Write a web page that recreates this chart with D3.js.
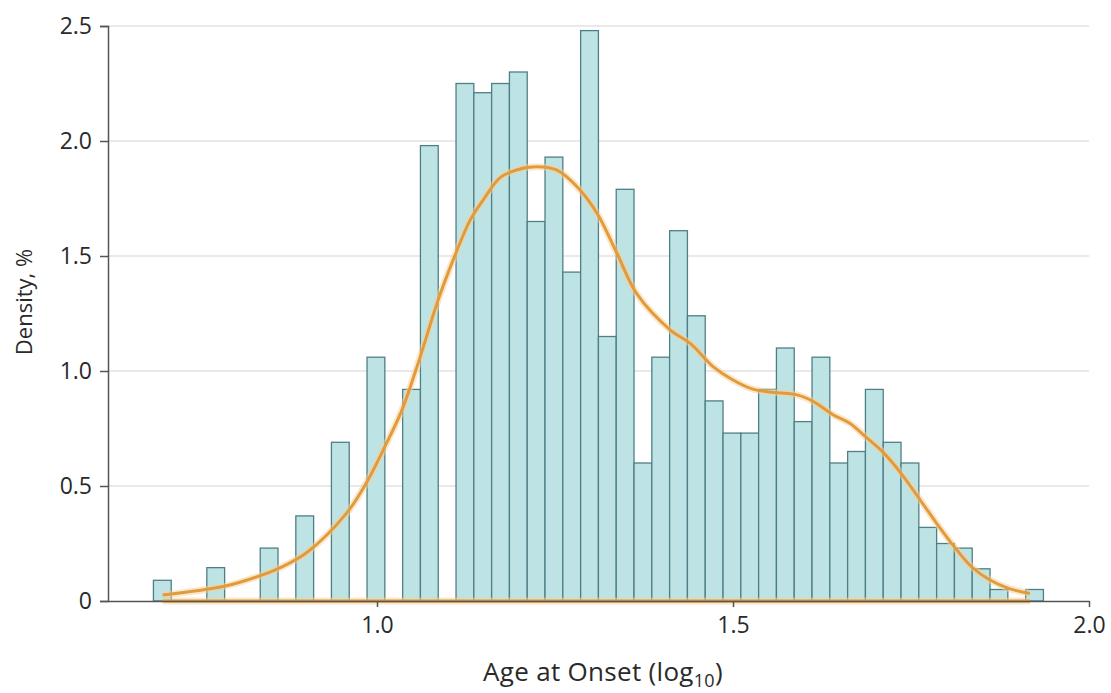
<!DOCTYPE html>
<html lang="en">
<head>
  <meta charset="utf-8" />
  <title>Age at Onset histogram</title>
  <script src="https://d3js.org/d3.v7.min.js"></script>
  <style>
    body { margin: 0; background: #fff; }
    text { font-family: "Open Sans", "DejaVu Sans", sans-serif; fill: #2a2a2a; }
  </style>
</head>
<body>
  <script>
    // histogram bins (log10 age), equal width
    var binStart = 0.686;
    var binWidth = 0.025;
    var density = [
      0.09, 0, 0, 0.145, 0, 0, 0.23, 0, 0.37, 0,
      0.69, 0, 1.06, 0, 0.92, 1.98, 0, 2.25, 2.21, 2.25,
      2.30, 1.65, 1.93, 1.43, 2.48, 1.15, 1.79, 0.60, 1.06, 1.61,
      1.24, 0.87, 0.73, 0.73, 0.92, 1.10, 0.78, 1.06, 0.60, 0.65,
      0.92, 0.69, 0.60, 0.32, 0.25, 0.23, 0.14, 0.05, 0, 0.05
    ];

    // kernel density curve
    var kdeX = [0.699, 0.787, 0.836, 0.864, 0.901, 0.957, 0.986, 1.011, 1.035, 1.060,
      1.085, 1.107, 1.131, 1.149, 1.173, 1.196, 1.224, 1.252, 1.281, 1.309,
      1.337, 1.365, 1.412, 1.440, 1.472, 1.500, 1.529, 1.561, 1.590,
      1.613, 1.641, 1.664, 1.688, 1.711, 1.736, 1.763, 1.786, 1.809, 1.835,
      1.861, 1.887, 1.917];
    var kdeY = [0.026, 0.065, 0.110, 0.145, 0.210, 0.381, 0.519, 0.671, 0.830, 1.055,
      1.301, 1.483, 1.657, 1.743, 1.841, 1.874, 1.888, 1.874, 1.801, 1.686,
      1.512, 1.335, 1.178, 1.120, 1.019, 0.961, 0.920, 0.906, 0.896,
      0.867, 0.809, 0.773, 0.709, 0.646, 0.555, 0.439, 0.338, 0.243, 0.149,
      0.091, 0.055, 0.033];

    var xTicks = [1.0, 1.5, 2.0];
    var yTicks = [0, 0.5, 1.0, 1.5, 2.0, 2.5];

    var W = 1111, H = 693;
    var margin = { top: 26, right: 22, bottom: 92, left: 108 };
    var width = W - margin.left - margin.right;
    var height = H - margin.top - margin.bottom;

    var svg = d3.select("body").append("svg")
      .attr("width", W)
      .attr("height", H);

    var g = svg.append("g")
      .attr("transform", "translate(" + margin.left + "," + margin.top + ")");

    var x = d3.scaleLinear().domain([0.6222, 2.0]).range([0, width]);
    var y = d3.scaleLinear().domain([0, 2.5]).range([height, 0]);

    // gridlines
    g.append("g").selectAll("line")
      .data(yTicks.filter(function (d) { return d > 0; }))
      .join("line")
      .attr("x1", 0).attr("x2", width)
      .attr("y1", function (d) { return y(d); })
      .attr("y2", function (d) { return y(d); })
      .attr("stroke", "#d4d4d4")
      .attr("stroke-width", 1.2);

    // bars
    var bins = density.map(function (v, i) {
      return { x0: binStart + i * binWidth, x1: binStart + (i + 1) * binWidth, v: v };
    }).filter(function (d) { return d.v > 0; });

    g.append("g").selectAll("rect")
      .data(bins)
      .join("rect")
      .attr("x", function (d) { return x(d.x0); })
      .attr("width", function (d) { return x(d.x1) - x(d.x0); })
      .attr("y", function (d) { return y(d.v); })
      .attr("height", function (d) { return y(0) - y(d.v); })
      .attr("fill", "#bde3e4")
      .attr("stroke", "#4f7f86")
      .attr("stroke-width", 1.3);

    // density curve, closed along the baseline
    var pts = kdeX.map(function (d, i) { return [d, kdeY[i]]; });
    var line = d3.line()
      .curve(d3.curveCatmullRom)
      .x(function (d) { return x(d[0]); })
      .y(function (d) { return y(d[1]); });
    var base = [[kdeX[0], 0], [kdeX[kdeX.length - 1], 0]];

    [["#f6d29c", 7, 0.5], ["#e39a3a", 3, 1]].forEach(function (s) {
      g.append("path").datum(pts)
        .attr("d", line)
        .attr("fill", "none")
        .attr("stroke", s[0]).attr("stroke-width", s[1]).attr("stroke-opacity", s[2]);
      g.append("path").datum(base)
        .attr("d", d3.line().x(function (d) { return x(d[0]); }).y(function (d) { return y(d[1]); }))
        .attr("fill", "none")
        .attr("stroke", s[0]).attr("stroke-width", s[1]).attr("stroke-opacity", s[2]);
    });

    // axes
    var yAxis = g.append("g")
      .call(d3.axisLeft(y).tickValues(yTicks).tickSize(8).tickPadding(8)
        .tickFormat(function (d) { return d === 0 ? "0" : d3.format(".1f")(d); }));
    yAxis.select(".domain").attr("stroke", "#555").attr("stroke-width", 1.5);
    yAxis.selectAll(".tick line").attr("stroke", "#555").attr("stroke-width", 1.5);
    yAxis.selectAll("text").attr("font-size", 23).attr("fill", "#2a2a2a")
      .attr("font-family", "'Open Sans', sans-serif");

    var xAxis = g.append("g")
      .attr("transform", "translate(0," + height + ")")
      .call(d3.axisBottom(x).tickValues(xTicks).tickSize(6).tickSizeOuter(0).tickPadding(10)
        .tickFormat(d3.format(".1f")));
    xAxis.select(".domain").attr("stroke", "#555").attr("stroke-width", 1.5);
    xAxis.selectAll(".tick line").attr("stroke", "#555").attr("stroke-width", 1.5);
    xAxis.selectAll("text").attr("font-size", 23).attr("fill", "#2a2a2a")
      .attr("font-family", "'Open Sans', sans-serif");

    // axis titles
    svg.append("text")
      .attr("transform", "translate(32,302) rotate(-90)")
      .attr("text-anchor", "middle")
      .attr("font-size", 22)
      .text("Density, %");

    var xl = svg.append("text")
      .attr("x", 603)
      .attr("y", 681)
      .attr("text-anchor", "middle")
      .attr("font-size", 26)
      .attr("letter-spacing", 0.3);
    xl.append("tspan").text("Age at Onset (log");
    xl.append("tspan").attr("font-size", 18).attr("dy", 6).text("10");
    xl.append("tspan").attr("dy", -6).text(")");
  </script>
</body>
</html>
